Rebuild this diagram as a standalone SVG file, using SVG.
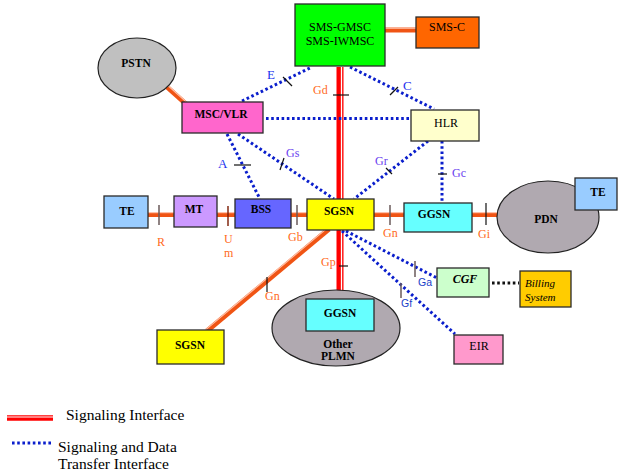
<svg xmlns="http://www.w3.org/2000/svg" width="623" height="472" viewBox="0 0 623 472">
<style>
.box{stroke:#2a2a2a;stroke-width:1.3}
.ell{stroke:#222;stroke-width:1.2}
.t{font-family:"Liberation Serif",serif;font-size:11.5px;font-weight:bold;fill:#000;text-anchor:middle}
.tr{font-family:"Liberation Serif",serif;font-size:12px;fill:#000;text-anchor:middle}
.org{stroke:#F05414;stroke-width:5;fill:none}
.orgw{stroke:#FFC0A8;stroke-width:1.2;fill:none}
.red{stroke:#FF0000;stroke-width:7;fill:none}
.redw{stroke:#FFFFFF;stroke-width:1.3;fill:none}
.dot{stroke:#0A1ECC;stroke-width:3;stroke-dasharray:2.6 2.6;fill:none}
.tk{stroke:#111;stroke-width:1.2}
.tkg{stroke:#6a5a5a;stroke-width:1.5}
.lo{font-family:"Liberation Serif",serif;font-size:12px;fill:#FF6A1A}
.lb{font-family:"Liberation Serif",serif;font-size:13px;fill:#2233EE}
.lp{font-family:"Liberation Serif",serif;font-size:12px;fill:#6A3FEF}
.ls{font-family:"Liberation Sans",sans-serif;font-size:10.5px;fill:#1840C8}
.leg{font-family:"Liberation Serif",serif;font-size:15.5px;fill:#000}
</style>
<g id="connectors">
  <!-- red signaling vertical -->
  <line class="red" x1="340" y1="67" x2="340" y2="299"/>
  <line class="redw" x1="341.5" y1="67" x2="341.5" y2="299"/>
  <line class="tk" x1="333" y1="95" x2="349" y2="95"/>
  <line class="tk" x1="339" y1="266" x2="348" y2="266"/>
  <!-- orange double lines -->
  <line class="org" x1="385" y1="30" x2="416" y2="30"/>
  <line class="orgw" x1="385" y1="28.2" x2="416" y2="28.2"/>
  <line class="org" x1="167" y1="87" x2="186" y2="104"/>
  <line class="orgw" x1="168.2" y1="85.8" x2="187.2" y2="102.8"/>
  <line class="org" x1="148" y1="214.5" x2="174" y2="214.5"/>
  <line class="orgw" x1="148" y1="212.6" x2="174" y2="212.6"/>
  <line class="org" x1="217" y1="214.5" x2="235" y2="214.5"/>
  <line class="orgw" x1="217" y1="212.6" x2="235" y2="212.6"/>
  <line class="org" x1="291" y1="214.5" x2="307" y2="214.5"/>
  <line class="orgw" x1="291" y1="212.6" x2="307" y2="212.6"/>
  <line class="org" x1="374" y1="214.5" x2="404" y2="214.5"/>
  <line class="orgw" x1="374" y1="212.6" x2="404" y2="212.6"/>
  <line class="org" x1="472" y1="214.5" x2="499" y2="214.5"/>
  <line class="orgw" x1="472" y1="212.6" x2="499" y2="212.6"/>
  <line class="org" x1="329" y1="229" x2="207" y2="331"/>
  <line class="orgw" x1="327.8" y1="227.6" x2="205.8" y2="329.6"/>
  <!-- ticks on orange lines -->
  <line class="tkg" x1="159" y1="205" x2="159" y2="225"/>
  <line x1="228" y1="206" x2="228" y2="226" stroke="#7a1a00" stroke-width="1.4"/>
  <line class="tkg" x1="297" y1="205" x2="297" y2="225"/>
  <line class="tkg" x1="390" y1="205" x2="390" y2="225"/>
  <line class="tk" x1="486" y1="203" x2="486" y2="225"/>
  <line class="tk" x1="267" y1="277" x2="267" y2="292"/>
  <!-- blue dotted -->
  <line class="dot" x1="242" y1="101" x2="312" y2="67"/>
  <line class="dot" x1="350" y1="67" x2="434" y2="109"/>
  <line class="dot" x1="266" y1="118.5" x2="410" y2="118.5"/>
  <line class="dot" x1="227" y1="134" x2="260" y2="199"/>
  <line class="dot" x1="238" y1="134" x2="334" y2="199"/>
  <line class="dot" x1="428" y1="141" x2="354" y2="199"/>
  <line class="dot" x1="442" y1="141" x2="442" y2="203"/>
  <line class="dot" x1="346" y1="231" x2="437" y2="278"/>
  <line class="dot" x1="342" y1="231" x2="455" y2="334"/>
  <line x1="492" y1="283" x2="519" y2="283" stroke="#111" stroke-width="3" stroke-dasharray="2.6 2.6"/>
  <!-- ticks on dotted -->
  <line class="tk" x1="283" y1="77" x2="292" y2="86"/>
  <line class="tk" x1="390" y1="95" x2="398" y2="87"/>
  <line class="tk" x1="234" y1="165" x2="251" y2="165"/>
  <line class="tk" x1="280" y1="170" x2="284" y2="158"/>
  <line class="tk" x1="386" y1="168" x2="392" y2="174"/>
  <line class="tk" x1="438" y1="174" x2="447" y2="174"/>
  <line class="tkg" x1="415" y1="261" x2="415" y2="277"/>
  <line class="tkg" x1="401" y1="283" x2="401" y2="298"/>
  <!-- labels -->
  <text class="lb" x="267" y="79">E</text>
  <text class="lb" x="403" y="90">C</text>
  <text class="lo" x="313" y="94" fill="#F04A22">Gd</text>
  <text class="lb" x="218" y="168">A</text>
  <text class="lp" x="286" y="157">Gs</text>
  <text class="lp" x="375" y="165">Gr</text>
  <text class="lp" x="452" y="177">Gc</text>
  <text class="lo" x="157" y="246">R</text>
  <text class="lo" x="224" y="243">U</text>
  <text class="lo" x="224" y="257">m</text>
  <text class="lo" x="288" y="241">Gb</text>
  <text class="lo" x="383" y="237">Gn</text>
  <text class="lo" x="478" y="238">Gi</text>
  <text class="lo" x="321" y="266">Gp</text>
  <text class="lo" x="265" y="300">Gn</text>
  <text class="ls" x="418" y="286">Ga</text>
  <text class="ls" x="401" y="307">Gf</text>
</g>
<g id="sms-gmsc">
  <rect class="box" x="295" y="4" width="90" height="62" fill="#00FF00" stroke="#1a4a1a"/>
  <text class="tr" x="340" y="31" font-size="12.5">SMS-GMSC</text>
  <text class="tr" x="340" y="45" font-size="12.5">SMS-IWMSC</text>
</g>
<g id="sms-c">
  <rect class="box" x="416" y="17" width="63" height="31" fill="#FF6600"/>
  <text class="tr" x="447" y="31">SMS-C</text>
</g>
<g id="pstn">
  <ellipse class="ell" cx="137" cy="68" rx="39" ry="30" fill="#C0C0C0"/>
  <text class="t" x="136" y="67">PSTN</text>
</g>
<g id="msc-vlr">
  <rect class="box" x="182" y="102" width="81" height="31" fill="#FF66CC"/>
  <text class="t" x="221" y="118">MSC/VLR</text>
</g>
<g id="hlr">
  <rect class="box" x="411" y="110" width="68" height="31" fill="#FFFFCC"/>
  <text class="tr" x="446" y="127">HLR</text>
</g>
<g id="te-left">
  <rect class="box" x="104" y="196" width="44" height="32" fill="#99CCFF"/>
  <text class="t" x="127" y="215">TE</text>
</g>
<g id="mt">
  <rect class="box" x="174" y="196" width="43" height="31" fill="#CC99FF"/>
  <text class="t" x="194" y="213">MT</text>
</g>
<g id="bss">
  <rect class="box" x="235" y="199" width="56" height="29" fill="#6666FF"/>
  <text class="t" x="261" y="213">BSS</text>
</g>
<g id="sgsn">
  <rect class="box" x="307" y="199" width="67" height="31" fill="#FFFF00"/>
  <text class="t" x="339" y="215">SGSN</text>
</g>
<g id="ggsn">
  <rect class="box" x="404" y="203" width="68" height="29" fill="#66FFFF"/>
  <text class="t" x="434" y="218">GGSN</text>
</g>
<g id="pdn">
  <ellipse class="ell" cx="548" cy="217" rx="51" ry="36" fill="#B0A9B0"/>
  <text class="t" x="546" y="223">PDN</text>
</g>
<g id="te-right">
  <rect class="box" x="575" y="178" width="42" height="32" fill="#99CCFF"/>
  <text class="t" x="598" y="196">TE</text>
</g>
<g id="other-plmn">
  <ellipse class="ell" cx="336" cy="328" rx="64" ry="38" fill="#B0A9B0"/>
  <rect class="box" x="306" y="299" width="68" height="32" fill="#66FFFF"/>
  <text class="t" x="340" y="317">GGSN</text>
  <text class="t" x="338" y="348">Other</text>
  <text class="t" x="338" y="360">PLMN</text>
</g>
<g id="sgsn-2">
  <rect class="box" x="157" y="330" width="67" height="34" fill="#FFFF00"/>
  <text class="t" x="190" y="349">SGSN</text>
</g>
<g id="cgf">
  <rect class="box" x="437" y="268" width="52" height="29" fill="#CCFFCC"/>
  <text class="tr" x="465" y="283" font-style="italic" font-weight="bold">CGF</text>
</g>
<g id="billing">
  <rect class="box" x="520" y="271" width="51" height="36" fill="#FFCC00"/>
  <text x="525" y="287" font-family="Liberation Serif,serif" font-size="11px" font-style="italic">Billing</text>
  <text x="525" y="301" font-family="Liberation Serif,serif" font-size="11px" font-style="italic">System</text>
</g>
<g id="eir">
  <rect class="box" x="454" y="335" width="49" height="29" fill="#FF99CC"/>
  <text class="tr" x="479" y="350">EIR</text>
</g>
<g id="legend">
  <line x1="7" y1="418" x2="53" y2="418" stroke="#FF0000" stroke-width="5.5"/>
  <line x1="7" y1="417" x2="53" y2="417" stroke="#FFFFFF" stroke-width="1"/>
  <text class="leg" x="66" y="420">Signaling Interface</text>
  <line x1="12" y1="443" x2="52" y2="443" stroke="#0A1ECC" stroke-width="3" stroke-dasharray="2.6 2.6"/>
  <text class="leg" x="58" y="452">Signaling and Data</text>
  <text class="leg" x="58" y="469">Transfer Interface</text>
</g>
</svg>
